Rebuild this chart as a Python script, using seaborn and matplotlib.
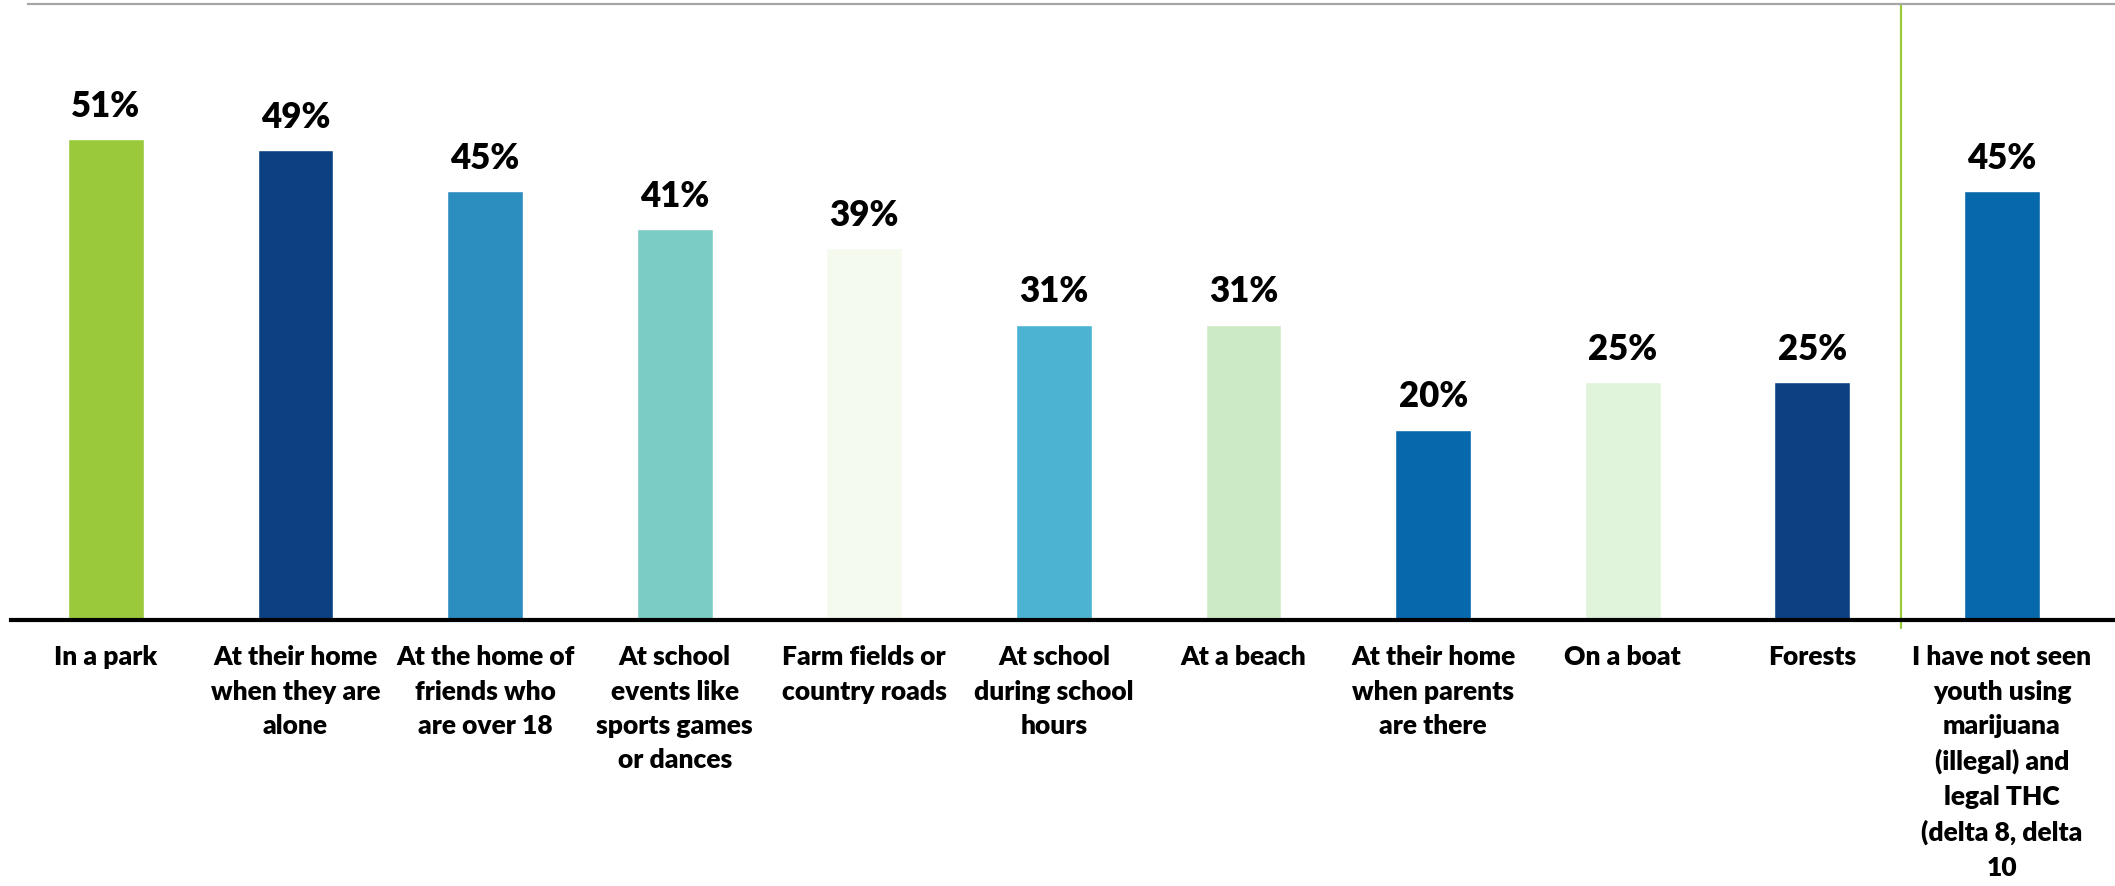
import pandas as pd
import matplotlib.pyplot as plt
import seaborn as sns

categories = [
    "In a park",
    "At their home\nwhen they are\nalone",
    "At the home of\nfriends who\nare over 18",
    "At school\nevents like\nsports games\nor dances",
    "Farm fields or\ncountry roads",
    "At school\nduring school\nhours",
    "At a beach",
    "At their home\nwhen parents\nare there",
    "On a boat",
    "Forests",
    "I have not seen\nyouth using\nmarijuana\n(illegal) and\nlegal THC\n(delta 8, delta\n10",
]
values = [50.5, 49.3, 45, 41, 39, 31, 31, 20, 25, 25, 45]
value_labels = ["51%", "49%", "45%", "41%", "39%", "31%", "31%", "20%", "25%", "25%", "45%"]
colors = ["#9ACA3C", "#0B4083", "#2C8DBF", "#7BCCC4", "#F4FAEE", "#4DB3D3",
          "#CCEBC5", "#0868AC", "#E0F3DB", "#0B4083", "#0868AC"]

sns.set_style("white")
plt.rcParams['font.family'] = ['Lato', 'DejaVu Sans']
plt.rcParams['font.weight'] = 'bold'

df = pd.DataFrame({"place": categories, "pct": values})

fig = plt.figure(figsize=(21.15, 8.86), dpi=100)
ax = fig.add_axes([11 / 2115, 0.300, 1 - 11 / 2115, 0.695])

sns.barplot(data=df, x="place", y="pct", hue="place", palette=colors,
            legend=False, width=0.4, saturation=1, ax=ax)

ax.set_xlim(-0.5, 10.596)
ax.set_ylim(0, 64.6)

# value labels above the bars
for i, (v, lab) in enumerate(zip(values, value_labels)):
    ax.annotate(lab, (i, v), xytext=(0, 16), textcoords="offset points",
                ha="center", va="baseline", fontsize=25, fontweight="heavy",
                color="black")

# separator before the last bar
ax.axvline(9.47, ymin=-0.012, ymax=1, color="#9ACA3C", lw=1.6, clip_on=False)

ax.set_xlabel("")
ax.set_ylabel("")
ax.set_yticks([])
ax.set_xticks(range(len(categories)))
ax.set_xticklabels(categories, fontsize=19, fontweight="heavy", linespacing=1.52)
ax.tick_params(axis="x", length=0, pad=18, colors="black")

for s in ["left", "right"]:
    ax.spines[s].set_visible(False)
ax.spines["bottom"].set_color("black")
ax.spines["bottom"].set_linewidth(3)
ax.spines["top"].set_color("#A6A6A6")
ax.spines["top"].set_linewidth(1.6)
ax.spines["top"].set_bounds(-0.41, 10.596)

fig.savefig("out.png", dpi=100)
